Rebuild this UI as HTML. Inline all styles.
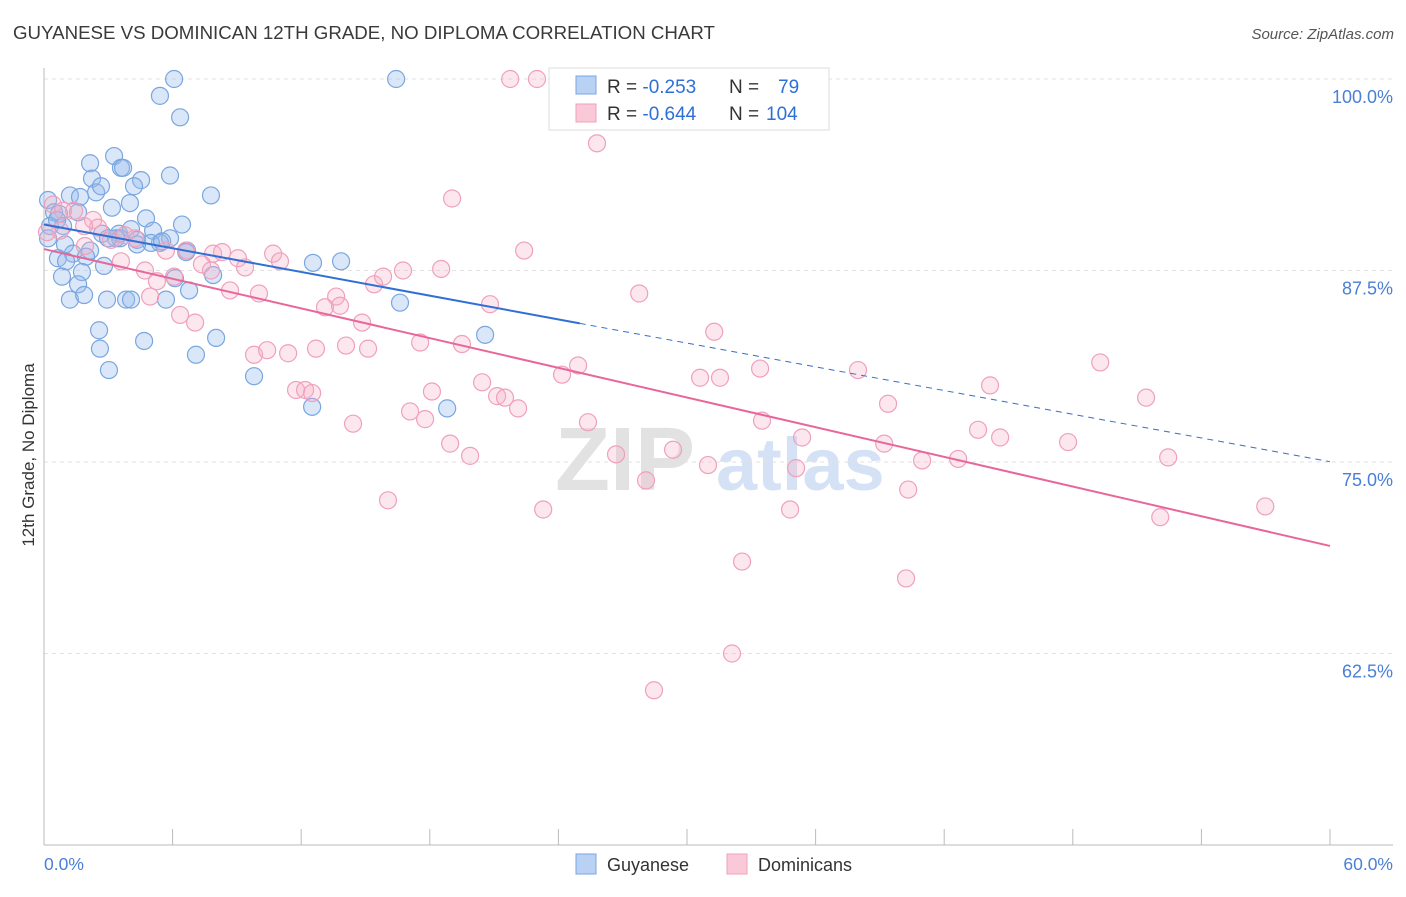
<!DOCTYPE html>
<html><head><meta charset="utf-8">
<style>
body{margin:0;background:#fff;font-family:"Liberation Sans",sans-serif;}
svg text{font-family:"Liberation Sans",sans-serif;}
</style></head>
<body>
<svg id="chart" width="1406" height="892" viewBox="0 0 1406 892" xmlns="http://www.w3.org/2000/svg">
<text x="13" y="39" font-size="18.7" fill="#3a3a3a">GUYANESE VS DOMINICAN 12TH GRADE, NO DIPLOMA CORRELATION CHART</text>
<text x="1394" y="39" font-size="15" fill="#555" text-anchor="end" font-style="italic">Source: ZipAtlas.com</text>
<g>
<text x="555" y="490" font-size="90" fill="#e2e2e2" font-family="Liberation Serif, serif" font-weight="bold">ZIP</text>
<text x="716" y="490" font-size="74" fill="#d5e2f5" font-weight="bold">atlas</text>
</g>
<g id="grid"></g>
<g id="axes"></g>
<g id="marks"></g>
<g id="lines"></g>
<text transform="translate(34,455) rotate(-90)" font-size="17" fill="#333" text-anchor="middle">12th Grade, No Diploma</text>
<text x="44" y="870" font-size="17.5" fill="#4a7fd6">0.0%</text>
<text x="1393" y="870" font-size="17.5" fill="#4a7fd6" text-anchor="end">60.0%</text>
<g>
<rect x="549" y="68" width="280" height="62" fill="#fff" stroke="#ddd"/>
<rect x="576" y="76" width="20" height="18" fill="#b9d1f3" stroke="#7aa6e0"/>
<rect x="576" y="104" width="20" height="18" fill="#f9c9d8" stroke="#f0a0bb"/>
<text x="607" y="93" font-size="19" fill="#333">R = <tspan fill="#2f6fd6">-0.253</tspan><tspan x="729">N =</tspan><tspan x="778" fill="#2f6fd6">79</tspan></text>
<text x="607" y="120" font-size="19" fill="#333">R = <tspan fill="#2f6fd6">-0.644</tspan><tspan x="729">N =</tspan><tspan x="766" fill="#2f6fd6">104</tspan></text>
</g>
<g>
<rect x="576" y="854" width="20" height="20" fill="#b9d1f3" stroke="#7aa6e0"/>
<text x="607" y="871" font-size="18" fill="#333">Guyanese</text>
<rect x="727" y="854" width="20" height="20" fill="#f9c9d8" stroke="#f0a0bb"/>
<text x="758" y="871" font-size="18" fill="#333">Dominicans</text>
</g>
</svg>
<script>
const yTicks=[100,87.5,75,62.5];
const yTickLabels=["100.0%","87.5%","75.0%","62.5%"];
const xTicks=[0,6,12,18,24,30,36,42,48,54,60];
const guyX=[6.07,5.41,6.35,16.43,3.27,2.15,3.59,3.69,4.53,5.88,2.24,2.43,1.21,2.66,4.2,7.79,1.68,0.19,3.17,4.01,0.47,1.59,0.7,4.76,6.44,0.28,0.89,2.71,3.5,4.06,5.09,5.88,5.41,6.67,0.98,4.34,3.36,2.15,1.35,0.65,1.96,1.03,2.8,1.77,0.84,6.11,7.89,12.55,13.86,1.59,1.21,1.87,2.94,3.83,4.06,5.69,6.77,16.61,2.57,2.61,4.67,8.03,20.58,3.03,7.09,9.8,12.51,18.81,0.19,0.61,3.55,4.99,6.63,4.34,5.51,2.99];
const guyY=[100,98.9,97.5,100,94.97,94.5,94.2,94.2,93.4,93.7,93.5,92.6,92.4,93.0,93.0,92.4,92.3,92.1,91.6,91.9,91.3,91.3,91.2,90.9,90.5,90.4,90.4,89.9,89.9,90.2,90.1,89.6,89.3,88.8,89.2,89.5,89.6,88.8,88.6,88.3,88.4,88.1,87.8,87.4,87.1,87.0,87.2,88.0,88.1,86.6,85.6,85.9,85.6,85.6,85.6,85.6,86.2,85.4,83.6,82.4,82.9,83.1,83.3,81.0,82.0,80.6,78.6,78.5,89.6,90.8,89.6,89.3,88.7,89.2,89.4,89.6];
const domX=[21.75,23.0,25.8,19.04,0.42,0.89,1.4,2.29,2.52,1.87,3.13,3.78,4.25,5.69,4.71,5.27,6.07,6.63,7.89,8.31,9.05,9.38,7.37,7.79,8.68,10.03,10.69,11.01,13.11,13.63,13.81,14.84,15.4,15.82,16.75,18.53,22.4,20.81,27.77,31.27,3.59,4.95,6.35,7.05,9.8,10.41,11.39,12.69,14.09,15.12,17.55,19.5,24.92,24.17,30.61,31.54,33.41,37.98,49.28,51.42,44.14,39.38,43.58,44.61,47.78,52.45,18.1,20.44,21.14,21.51,22.12,17.08,17.78,14.42,11.76,12.18,12.51,18.95,19.88,25.38,26.69,29.35,30.98,33.5,35.37,39.2,40.97,42.65,35.09,28.09,40.32,16.05,23.29,34.81,52.08,56.98,32.57,40.22,32.1,28.46,0.75,0.14,1.91];
const domY=[100,100,95.8,92.2,91.8,91.4,91.4,90.8,90.3,90.4,89.5,89.8,89.6,88.8,87.5,86.8,87.1,88.8,88.6,88.7,88.3,87.7,87.9,87.5,86.2,86.0,88.6,88.1,85.1,85.8,85.2,84.1,86.6,87.1,87.5,87.6,88.8,85.3,86.0,83.5,88.1,85.8,84.6,84.1,82.0,82.3,82.1,82.4,82.6,82.4,82.8,82.7,81.3,80.7,80.5,80.5,81.1,81.0,81.5,79.2,80.0,78.8,77.1,76.6,76.3,75.3,79.6,80.2,79.3,79.2,78.5,78.3,77.8,77.5,79.7,79.7,79.5,76.2,75.4,77.6,75.5,75.8,74.8,77.7,76.6,76.2,75.1,75.2,74.6,73.8,73.2,72.5,71.9,71.9,71.4,72.1,68.5,67.4,62.5,60.1,90.1,90.0,89.1];
const guyTrend=[90.5,-0.258]; // intercept, slope
const guyTrendSolidEnd=25;
const domTrend=[88.9,-0.323];

const NS="http://www.w3.org/2000/svg";
const X=v=>44+v/60*1286;
const Y=v=>79+(100-v)/12.5*191.5;
function mk(tag,attrs,parent){const e=document.createElementNS(NS,tag);for(const k in attrs)e.setAttribute(k,attrs[k]);document.getElementById(parent).appendChild(e);return e;}
yTicks.forEach((t,i)=>{
  const g=mk('line',{x1:44,x2:1393,y1:Y(t),y2:Y(t),stroke:'#e2e2e2','stroke-dasharray':'4,4'},'grid');
  
  
  const l=mk('text',{x:1393,y:Y(t)+24,'font-size':18,fill:'#4a7fd6','text-anchor':'end'},'grid');
  l.textContent=yTickLabels[i];
  
  
});
const ya=mk('line',{x1:44,x2:44,y1:68,y2:845,stroke:'#bbb'},'axes');


const xa=mk('line',{x1:44,x2:1393,y1:845,y2:845,stroke:'#bbb'},'axes');


xTicks.forEach(t=>{
  const k=mk('line',{x1:X(t),x2:X(t),y1:829,y2:845,stroke:'#bbb'},'axes');
  
  
});
guyX.forEach((x,i)=>{
  const c=mk('circle',{cx:X(x),cy:Y(guyY[i]),r:8.5,fill:'rgba(150,185,235,0.35)',stroke:'#7aa6e0','stroke-width':1.2},'marks');
  
  
});
domX.forEach((x,i)=>{
  const c=mk('circle',{cx:X(x),cy:Y(domY[i]),r:8.5,fill:'rgba(245,175,200,0.3)',stroke:'#f0a0bb','stroke-width':1.2},'marks');
  
  
});
const gf=x=>guyTrend[0]+guyTrend[1]*x, df=x=>domTrend[0]+domTrend[1]*x;
const l1=mk('line',{x1:X(0),y1:Y(gf(0)),x2:X(guyTrendSolidEnd),y2:Y(gf(guyTrendSolidEnd)),stroke:'#2f6fd6','stroke-width':2},'lines');


const l2=mk('line',{x1:X(guyTrendSolidEnd),y1:Y(gf(guyTrendSolidEnd)),x2:X(60),y2:Y(gf(60)),stroke:'#2f6fd6','stroke-width':1,'stroke-dasharray':'6,5'},'lines');


const l3=mk('line',{x1:X(0),y1:Y(df(0)),x2:X(60),y2:Y(df(60)),stroke:'#e8679a','stroke-width':2},'lines');


</script>
</body></html>
